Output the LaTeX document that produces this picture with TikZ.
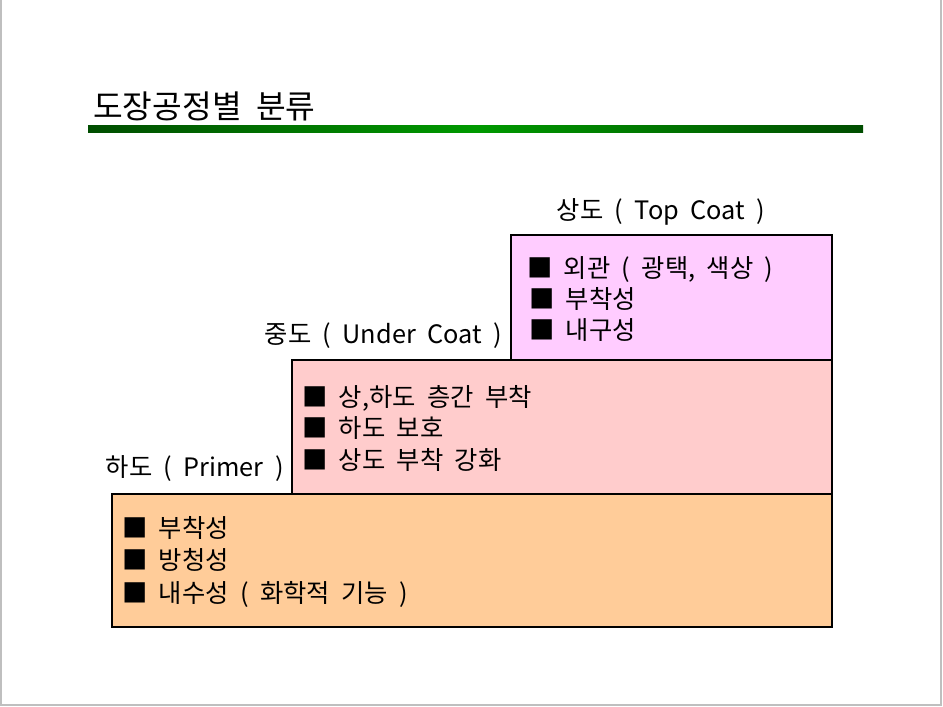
\documentclass[tikz,border=0pt]{standalone}
\usepackage{fontspec}
\setmainfont{Noto Sans CJK KR}[WordSpace=2]
\definecolor{topc}{HTML}{FFCCFF}
\definecolor{midc}{HTML}{FFCCCC}
\definecolor{botc}{HTML}{FFCC99}
\definecolor{gdark}{HTML}{004D00}
\definecolor{gbright}{HTML}{009900}
\begin{document}
\begin{tikzpicture}[x=0.75pt,y=-0.75pt,
  layer/.style={draw=black,line width=0.8pt},
  item/.style={anchor=base west,inner sep=0pt,font=\fontsize{19}{22}\selectfont},
  lbl/.style={inner sep=0pt,font=\fontsize{19}{22}\selectfont}]
\useasboundingbox (0,0) rectangle (943,707);
\fill[white] (0,0) rectangle (943,707);
\draw[gray!50,line width=1.5pt] (1,0) -- (1,705) -- (941,705) -- (941,0);
% title
\node[anchor=base west,inner sep=0pt,font=\fontsize{24.2}{27}\selectfont] (title) at (93,118) {도장공정별 분류};
\shade[left color=gdark,right color=gdark,middle color=gbright] (88,125) rectangle (863,132);
% boxes
\draw[layer,fill=botc] (112,494) rectangle (832,627);
\draw[layer,fill=midc] (292,360) rectangle (832,494);
\draw[layer,fill=topc] (511,235) rectangle (832,360);
% labels
\node[lbl,anchor=base] (ltop) at (661,219) {상도 ( Top Coat )};
\node[lbl,anchor=base east] (lmid) at (502,343) {중도 ( Under Coat )};
\node[lbl,anchor=base east] (lbot) at (284,476) {하도 ( Primer )};
% top items
\node[item] (t1) at (527,277) {■ 외관 ( 광택, 색상 )};
\node[item] (t2) at (529,308) {■ 부착성};
\node[item] (t3) at (529,339) {■ 내구성};
% middle items
\node[item] (m1) at (302,406) {■ 상,하도 층간 부착};
\node[item] (m2) at (302,437) {■ 하도 보호};
\node[item] (m3) at (302,469) {■ 상도 부착 강화};
% bottom items
\node[item] (b1) at (122,537) {■ 부착성};
\node[item] (b2) at (122,569) {■ 방청성};
\node[item] (b3) at (122,602) {■ 내수성 ( 화학적 기능 )};
\end{tikzpicture}
\end{document}
